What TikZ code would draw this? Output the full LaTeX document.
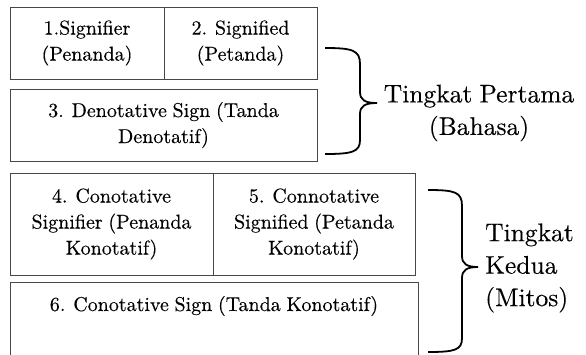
\documentclass[tikz,border=0pt]{standalone}
\usepackage{fontspec}
\setmainfont{lmroman10-regular}[Extension=.otf, FakeBold=0.25, WordSpace=0.85]
\begin{document}
\begin{tikzpicture}[x=1pt,y=-1pt,
  cell/.style={draw=black!72, line width=0.9pt, inner sep=0pt, align=center,
    font=\fontsize{20}{26}\selectfont},
  lbl/.style={inner sep=0pt, font=\fontsize{25.5}{32.5}\selectfont},
  brc/.style={draw=black, line width=1.8pt}]
\clip (0,0) rectangle (586,354);
\fill[white] (0,0) rectangle (586,354);
% first level
\node[cell, minimum width=154pt, minimum height=72pt] (b1) at (87,43) {1.Signifier\\(Penanda)};
\node[cell, minimum width=153pt, minimum height=72pt] (b2) at (240.5,43) {2. Signified\\(Petanda)};
\node[cell, minimum width=307pt, minimum height=72pt] (b3) at (163.5,125) {3. Denotative Sign (Tanda\\Denotatif)};
% second level
\node[cell, minimum width=203pt, minimum height=102pt] (b4) at (111.5,224) {4. Conotative\\Signifier (Penanda\\Konotatif)};
\node[cell, minimum width=202pt, minimum height=102pt] (b5) at (314,224) {5. Connotative\\Signified (Petanda\\Konotatif)};
\node[cell, minimum width=408pt, minimum height=110pt] (b6) at (214,337) {};
\node[cell, draw=none] (t6) at (214,306) {6. Conotative Sign (Tanda Konotatif)};
% braces
\draw[brc] (325,48) .. controls (352,48) and (360,50) .. (360,64) -- (360,92)
  .. controls (360,100) and (365,103) .. (377,103)
  .. controls (365,103) and (360,106) .. (360,114) -- (360,140)
  .. controls (360,152) and (352,154) .. (325,154);
\node[lbl, align=center] (l1) at (479,113) {Tingkat Pertama\\(Bahasa)};
\draw[brc] (428,190) .. controls (455,190) and (462,192) .. (462,206) -- (462,256)
  .. controls (462,264) and (467,267) .. (478,267)
  .. controls (467,267) and (462,270) .. (462,278) -- (462,338)
  .. controls (462,350) and (455,352) .. (428,352);
\node[lbl, align=left, anchor=west] (l2) at (485,268) {Tingkat\\Kedua\\(Mitos)};
\end{tikzpicture}
\end{document}
